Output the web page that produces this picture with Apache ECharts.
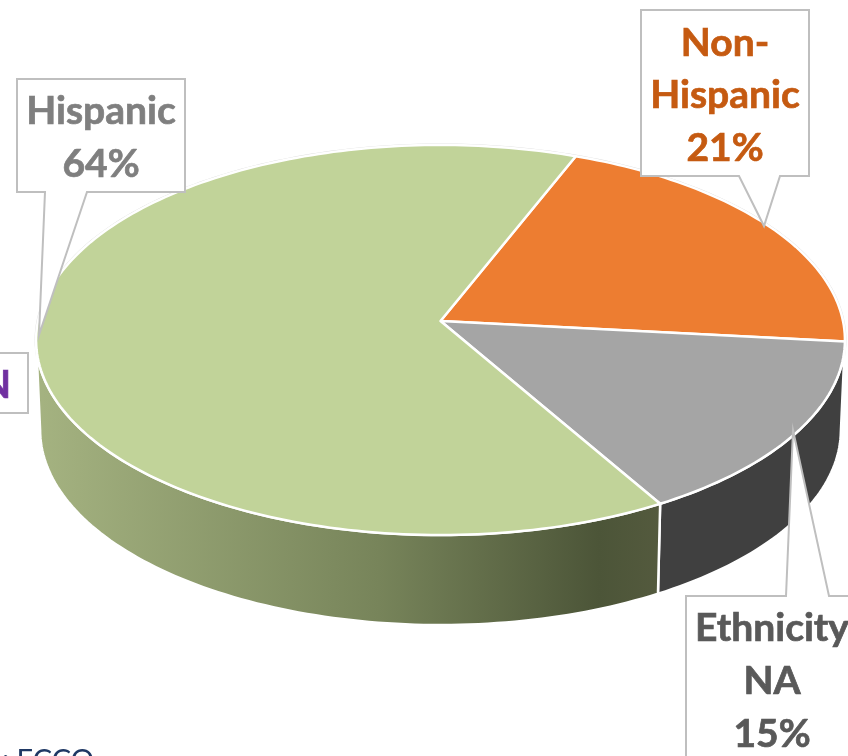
<!DOCTYPE html>
<html><head><meta charset="utf-8">
<style>html,body{margin:0;padding:0;background:#fff}#c{width:848px;height:756px}</style>
<script src="https://cdn.jsdelivr.net/npm/echarts@6/dist/echarts.min.js"></script>
</head><body><div id="c"></div>
<script>
const categories = ["Non-Hispanic", "Ethnicity NA", "Hispanic"];
const values = [20.7, 15, 64.3];
const topColors = ["#ed7d31", "#a5a5a5", "#c1d399"];
const labelLines = [["Non-", "Hispanic", "21%"], ["Ethnicity", "NA", "15%"], ["Hispanic", "64%"]];
const labelColors = ["#c55a11", "#595959", "#7f7f7f"];

const chart = echarts.init(document.getElementById("c"), null, {renderer: "canvas"});
const F = '"Lato","Open Sans",sans-serif';
const P = {cx: 440.5, ay: 321, R: 402.5, B: 193.2, k: 0.0974, depth: 90, low: 0.99, start: -68.5, sil: 5.6};
const total = values.reduce((a, b) => a + b, 0);
const rad = d => d * Math.PI / 180;
function rim(a, lower) {
  const c = Math.cos(rad(a)), s = Math.sin(rad(a)), w = 1 - P.k * s;
  return lower
    ? [P.cx + P.low * P.R * c / w, P.ay + P.depth + P.B * s / w]
    : [P.cx + P.R * c / w, P.ay + P.B * s / w];
}
function arc(a0, a1, lower) {
  const n = Math.max(2, Math.ceil(Math.abs(a1 - a0) / 1.2)), pts = [];
  for (let i = 0; i <= n; i++) pts.push(rim(a0 + (a1 - a0) * i / n, lower));
  return pts;
}
function span(i) {
  let a = P.start;
  for (let j = 0; j < i; j++) a += values[j] / total * 360;
  return [a, a + values[i] / total * 360];
}
const wallFill = [
  "#404040",
  "#404040",
  new echarts.graphic.LinearGradient(1, 0, 0, 0, [
    {offset: 0, color: "#545a3e"},
    {offset: 0.1, color: "#4c5538"},
    {offset: 0.45, color: "#77845a"},
    {offset: 1, color: "#a5b381"}
  ])
];
function renderWall(params) {
  const i = params.dataIndex, [a0, a1] = span(i);
  const from = Math.max(a0, P.sil), to = Math.min(a1, 180 - P.sil);
  if (to - from < 2) return {type: "group", children: []};
  const pts = arc(from, to, false).concat(arc(to, from, true));
  return {type: "polygon", shape: {points: pts},
    style: {fill: wallFill[i], stroke: "#ffffff", lineWidth: 2.5}};
}
function renderTop(params) {
  const i = params.dataIndex, [a0, a1] = span(i);
  return {type: "polygon", shape: {points: [[P.cx, P.ay]].concat(arc(a0, a1, false))},
    style: {fill: topColors[i], stroke: "#ffffff", lineWidth: 2.5, lineJoin: "round"}};
}
function renderRim() {
  return {type: "polyline", shape: {points: arc(0, 360, false)},
    style: {fill: null, stroke: "#dddddd", lineWidth: 3}};
}
const seriesData = categories.map((n, i) => ({name: n, value: values[i]}));

function callout(points) {
  return {type: "polygon", z: 10, shape: {points},
    style: {fill: "#fff", stroke: "#bfbfbf", lineWidth: 2}};
}
function textStyle(text, fill, size, align) {
  return {text, fill, font: `bold ${size}px ${F}`, align, verticalAlign: "middle", stroke: fill, lineWidth: 0.7};
}
function lines(idx, x, yFirst, step, size) {
  return labelLines[idx].map((t, j) => ({
    type: "text", z: 11, x, y: yFirst + j * step,
    style: textStyle(t, labelColors[idx], size, "center")
  }));
}
chart.setOption({
  animation: false,
  backgroundColor: "#ffffff",
  series: [
    {type: "custom", coordinateSystem: "none", z: 1, renderItem: renderRim, data: [0], silent: true},
    {type: "custom", coordinateSystem: "none", z: 2, renderItem: renderWall, data: seriesData, silent: true},
    {type: "custom", coordinateSystem: "none", z: 3, renderItem: renderTop, data: seriesData, silent: true}
  ],
  graphic: {elements: [
    callout([[17,79],[185,79],[185,192],[87,192],[39,335],[45,192],[17,192]]),
    callout([[641,10],[809,10],[809,176],[780,176],[764,226],[739,176],[641,176]]),
    callout([[686,596],[786,596],[793,430],[829,596],[860,596],[860,770],[686,770]]),
    {type: "rect", z: 10, shape: {x: -10, y: 353, width: 38, height: 60},
      style: {fill: "#fff", stroke: "#bfbfbf", lineWidth: 2}},
    ...lines(2, 101, 111, 53, 39),
    ...lines(0, 725, 43, 52.5, 39),
    ...lines(1, 772, 628, 53, 39),
    {type: "text", z: 11, x: 11, y: 385, style: textStyle("N", "#7030a0", 39, "right")},
    {type: "text", z: 11, x: 94, y: 761,
      style: {text: "Source: ECCO", fill: "#1f3864", font: `29px ${F}`, align: "right", verticalAlign: "middle"}}
  ]}
});
</script></body></html>
